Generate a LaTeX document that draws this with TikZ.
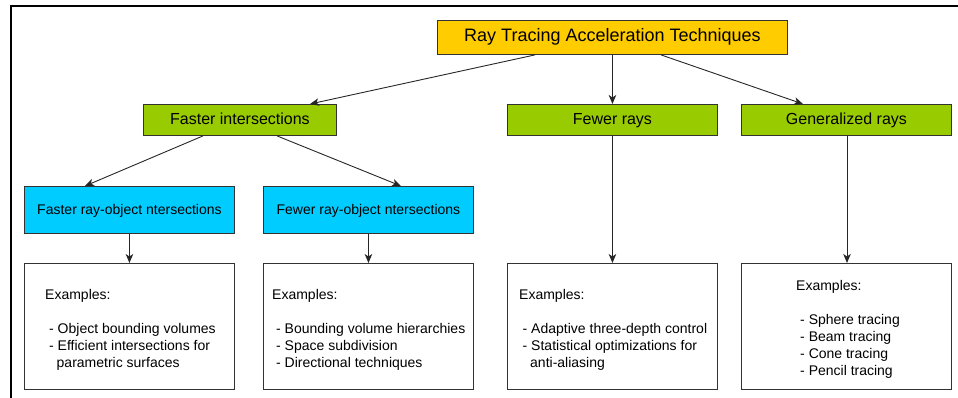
\documentclass[tikz,border=0pt]{standalone}
\usepackage{fontspec}
\setmainfont{Liberation Sans}
\usetikzlibrary{arrows.meta}
\definecolor{rootfill}{HTML}{FFCC00}
\definecolor{catfill}{HTML}{99CC00}
\definecolor{subfill}{HTML}{00CCFF}
\definecolor{edge}{HTML}{333333}
\tikzset{
  box/.style={draw=edge, line width=0.9pt, inner sep=0pt, anchor=north west},
  label/.style={box, text height=0.72em+1pt, text depth=0pt},
  rootbox/.style={label, fill=rootfill, font=\fontsize{18}{21}\selectfont},
  catbox/.style={label, fill=catfill, font=\fontsize{16}{19}\selectfont},
  subbox/.style={label, fill=subfill, font=\fontsize{14}{17}\selectfont},
  exbox/.style={box, fill=white},
  extext/.style={anchor=west, align=left, inner sep=0pt, font=\fontsize{14}{17}\selectfont},
  link/.style={draw=black!85, line width=0.9pt, -{Stealth[length=9pt,width=7.5pt,inset=2.5pt]}}
}
\begin{document}
\begin{tikzpicture}[x=1pt,y=-1pt]
\useasboundingbox (0,0) rectangle (958,398);
% outer frame, running past the right and lower edges
\draw[line width=2pt] (11,420) -- (11,6.5) -- (980,6.5);

% top level
\node[rootbox, minimum width=350pt, minimum height=34pt] (root) at (437,20) {Ray Tracing Acceleration Techniques};

% categories
\node[catbox, minimum width=193pt, minimum height=31pt] (fast) at (143,104) {Faster intersections};
\node[catbox, minimum width=210pt, minimum height=31pt] (few) at (507,104) {Fewer rays};
\node[catbox, minimum width=210pt, minimum height=31pt] (gen) at (741,104) {Generalized rays};

% sub-categories
\node[subbox, minimum width=210pt, minimum height=47pt] (fro) at (24,186) {Faster ray-object ntersections};
\node[subbox, minimum width=210pt, minimum height=47pt] (wro) at (263,186) {Fewer ray-object ntersections};

% example boxes
\node[exbox, minimum width=210pt, minimum height=126pt] (ex1) at (24,263) {};
\node[exbox, minimum width=210pt, minimum height=126pt] (ex2) at (263,263) {};
\node[exbox, minimum width=210pt, minimum height=126pt] (ex3) at (507,263) {};
\node[exbox, minimum width=210pt, minimum height=126pt] (ex4) at (741,263) {};

\node[extext] (t1) at (45,329.4) {Examples:\\[17pt]
\hspace*{4pt}- Object bounding volumes\\
\hspace*{4pt}- Efficient intersections for\\
\hspace*{11.5pt}parametric surfaces};
\node[extext] (t2) at (272,329.4) {Examples:\\[17pt]
\hspace*{4pt}- Bounding volume hierarchies\\
\hspace*{4pt}- Space subdivision\\
\hspace*{4pt}- Directional techniques};
\node[extext] (t3) at (519,329.4) {Examples:\\[17pt]
\hspace*{3.5pt}- Adaptive three-depth control\\
\hspace*{3.5pt}- Statistical optimizations for\\
\hspace*{11pt}anti-aliasing};
\node[extext] (t4) at (796,328.9) {Examples:\\[17pt]
\hspace*{4pt}- Sphere tracing\\
\hspace*{4pt}- Beam tracing\\
\hspace*{4pt}- Cone tracing\\
\hspace*{4pt}- Pencil tracing};

% connectors
\draw[link] (root.south -| 535,0) -- (fast.north -| 310,0);
\draw[link] (root.south -| few.north) -- (few.north);
\draw[link] (root.south -| 661,0) -- (gen.north -| 803,0);
\draw[link] (fast.south -| 203,0) -- (fro.north -| 85,0);
\draw[link] (fast.south -| 277,0) -- (wro.north -| 401,0);
\draw[link] (fro.south) -- (fro.south |- ex1.north);
\draw[link] (wro.south) -- (wro.south |- ex2.north);
\draw[link] (few.south) -- (few.south |- ex3.north);
\draw[link] (gen.south -| 847,0) -- (ex4.north -| 847,0);
\end{tikzpicture}
\end{document}
